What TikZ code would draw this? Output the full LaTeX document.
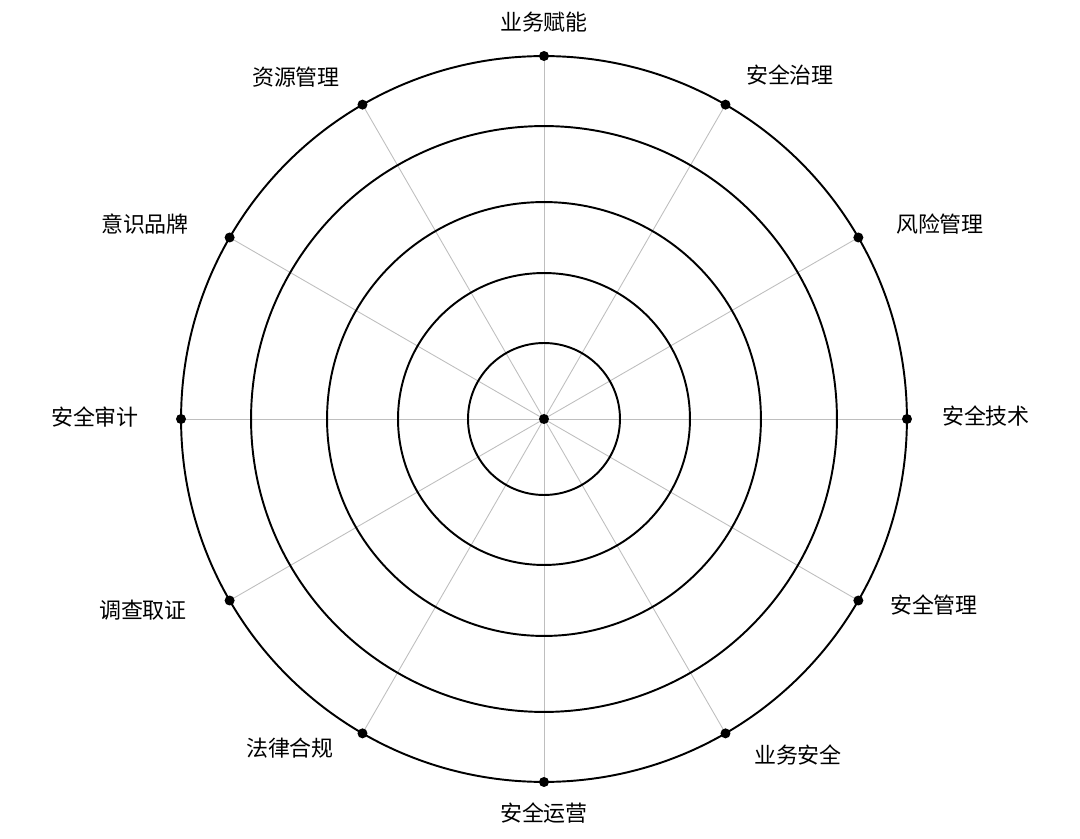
\documentclass[tikz,border=0pt]{standalone}
\usepackage{fontspec}
\usepackage{tikz}
\usetikzlibrary{positioning}
\newfontfamily\cjk{Noto Sans CJK SC}

\begin{document}
\begin{tikzpicture}[x=0.02cm,y=0.02cm, font=\cjk\fontsize{12.5}{15}\selectfont]
    \definecolor{spokeColor}{RGB}{190,190,190}

    \tikzset{
        ring/.style={draw=black, line width=1.1pt},
        spoke/.style={draw=spokeColor, line width=0.5pt},
        dot/.style={circle, fill=black, inner sep=0pt, minimum size=0.2cm}
    }

    \useasboundingbox (-544,-420) rectangle (536,419);

    \coordinate (c) at (0,0);

    % spokes and end dots
    \foreach \i in {1,...,12} {
        \pgfmathsetmacro{\ang}{120-30*\i}
        \coordinate (p\i) at (\ang:363);
        \draw[spoke] (c) -- (p\i);
    }

    % rings
    \foreach \r in {1.52,2.92,4.34,5.86,7.26} {\draw[ring] (c) circle[radius=\r cm];}

    \foreach \i in {1,...,12} {\node[dot] (d\i) at (p\i) {};}
    \node[dot] (d0) at (c) {};

    % labels
    \node (l1)  at (0,397)     {业务赋能};
    \node (l2)  at (246,344)   {安全治理};
    \node (l3)  at (396,195)   {风险管理};
    \node (l4)  at (442,3)     {安全技术};
    \node (l5)  at (390,-186)  {安全管理};
    \node (l6)  at (254,-336)  {业务安全};
    \node (l7)  at (0,-394)    {安全运营};
    \node (l8)  at (-254,-329) {法律合规};
    \node (l9)  at (-401,-191) {调查取证};
    \node (l10) at (-449,2)    {安全审计};
    \node (l11) at (-399,195)  {意识品牌};
    \node (l12) at (-248,342)  {资源管理};
\end{tikzpicture}
\end{document}
